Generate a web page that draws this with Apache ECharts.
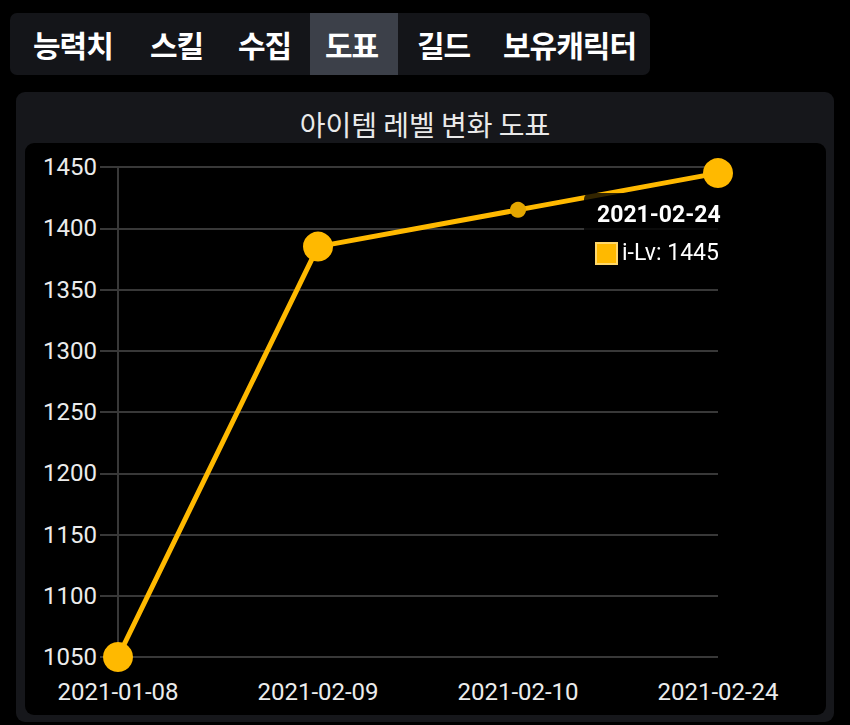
<!DOCTYPE html>
<html>
<head>
<meta charset="utf-8">
<script src="https://cdn.jsdelivr.net/npm/echarts@6/dist/echarts.min.js"></script>
<style>
  html, body { margin:0; padding:0; background:#000; width:850px; height:725px; overflow:hidden; }
  #tabs { position:absolute; left:10px; top:13px; width:640px; height:62px; background:#141519; border-radius:7px; }
  #tabs .bg { position:absolute; top:0; height:62px; background:#3c4049; }
  #tabs .tab { position:absolute; top:0; height:62px; line-height:62px; color:#fff; font-family:"Noto Sans CJK KR","Noto Sans",sans-serif; font-weight:700; font-size:30px; letter-spacing:-1px; white-space:nowrap; }
  #panel { position:absolute; left:16px; top:92px; width:818px; height:630px; background:#16171b; border-radius:9px; }
  #inner { position:absolute; left:25px; top:143px; width:801px; height:572px; background:#000; border-radius:9px; }
  #ptitle { position:absolute; left:16px; width:818px; top:105px; text-align:center; color:#eaeaea; font-family:"Noto Sans CJK KR",sans-serif; font-size:28px; line-height:38px; }
  #chart { position:absolute; left:0; top:0; width:850px; height:725px; }
</style>
</head>
<body>
<div id="tabs"></div>
<div id="panel"></div>
<div id="ptitle">아이템 레벨 변화 도표</div>
<div id="inner"></div>
<div id="chart"></div>
<script>
// ---- data ----
const tabNames = ['능력치', '스킬', '수집', '도표', '길드', '보유캐릭터'];
const activeTab = '도표';
const dates = ['2021-01-08', '2021-02-09', '2021-02-10', '2021-02-24'];
const itemLevels = [1050, 1385, 1415, 1445];
const yTicks = { min: 1050, max: 1450, step: 50 };
const seriesName = 'i-Lv';

// ---- tabs (layout only) ----
const tabTextLeft = [33, 150, 238, 325, 417, 503];
const tabsEl = document.getElementById('tabs');
const bg = document.createElement('div');
bg.className = 'bg';
bg.style.left = (310 - 10) + 'px';
bg.style.width = '88px';
tabsEl.appendChild(bg);
tabNames.forEach((t, i) => {
  const d = document.createElement('div');
  d.className = 'tab';
  d.style.left = (tabTextLeft[i] - 10) + 'px';
  d.textContent = t;
  tabsEl.appendChild(d);
});

// ---- chart ----
const chart = echarts.init(document.getElementById('chart'), null, { renderer: 'svg' });
const gridColor = '#383838';
const symbolSizes = [30, 30, 16, 30];
const pointColors = ['#ffb900', '#ffb900', '#e3a600', '#ffb900'];

chart.setOption({
  backgroundColor: 'transparent',
  animation: false,
  textStyle: { fontFamily: 'Roboto, sans-serif' },
  grid: { left: 118, right: 132, top: 167, bottom: 68, containLabel: false },
  tooltip: {
    trigger: 'item',
    alwaysShowContent: true,
    triggerOn: 'none',
    backgroundColor: 'rgba(0,0,0,0.8)',
    borderWidth: 0,
    padding: [7, 12, 8, 11],
    extraCssText: 'box-shadow:none;border-radius:6px;',
    position: [584, 193],
    formatter: function (p) {
      return '<div style="font-family:Roboto,sans-serif;color:#fff;">' +
        '<div style="font-weight:700;font-size:23px;line-height:30px;text-align:left;padding-left:2px;">' + p.name + '</div>' +
        '<div style="font-size:23px;line-height:32px;margin-top:7px;display:flex;align-items:center;">' +
        '<span style="display:inline-block;width:19px;height:19px;background:#ffb900;border:2px solid #ffd76a;margin-right:4px;"></span>' +
        p.seriesName + ': ' + p.value + '</div></div>';
    }
  },
  xAxis: {
    type: 'category',
    data: dates,
    boundaryGap: false,
    axisLine: { show: false },
    axisTick: { show: false },
    splitLine: { show: false },
    axisLabel: { color: '#ececec', fontSize: 24, margin: 23, fontFamily: 'Roboto' }
  },
  yAxis: {
    type: 'value',
    min: yTicks.min,
    max: yTicks.max,
    interval: yTicks.step,
    axisLine: { show: true, lineStyle: { color: gridColor, width: 2 } },
    axisTick: { show: true, length: 18, lineStyle: { color: gridColor, width: 2 } },
    splitLine: { show: true, lineStyle: { color: gridColor, width: 2 } },
    axisLabel: { color: '#ececec', fontSize: 24, margin: 21, fontFamily: 'Roboto',
      formatter: function (v) { return String(v); } }
  },
  series: [{
    name: seriesName,
    type: 'line',
    data: itemLevels.map((v, i) => ({
      value: v,
      symbolSize: symbolSizes[i],
      itemStyle: { color: pointColors[i] }
    })),
    symbol: 'circle',
    showAllSymbol: true,
    lineStyle: { color: '#ffb900', width: 5 },
    itemStyle: { color: '#ffb900', borderWidth: 0 },
    emphasis: { disabled: true },
    z: 3
  }]
});
chart.dispatchAction({ type: 'showTip', seriesIndex: 0, dataIndex: 3 });
</script>
</body>
</html>
